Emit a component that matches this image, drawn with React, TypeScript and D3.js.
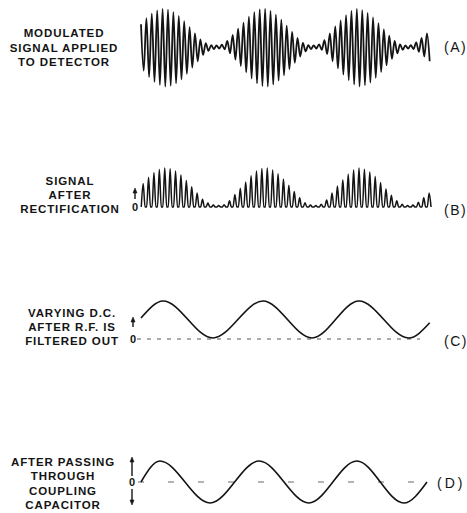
import React from 'react';
import * as d3 from 'd3';

// amplitude of each r.f. cycle (0..1)
const cycleAmps = [
  0.6, 0.76, 0.88, 0.96, 1.0, 0.98, 0.92, 0.82, 0.68, 0.52, 0.36, 0.2, 0.1, 0.05, 0.04, 0.06, 0.16, 0.32,
  0.48, 0.64, 0.8, 0.92, 0.99, 1.0, 0.95, 0.85, 0.72, 0.56, 0.4, 0.24, 0.11, 0.05, 0.04, 0.07, 0.18, 0.36,
  0.54, 0.7, 0.84, 0.95, 1.0, 0.97, 0.9, 0.78, 0.63, 0.46, 0.3, 0.16, 0.07, 0.04, 0.05, 0.12, 0.24, 0.36,
];

// audio wave after filtering: turning points (t in r.f. cycles, v = level)
const filteredT = [0, 4.1, 13.3, 22.6, 31.7, 40.4, 49.6, 53.5];
const filteredV = [0.54, 1, 0, 1, 0, 1, 0, 0.41];

// after the coupling capacitor: same wave centred on zero
const coupledT = [0, 3.5, 12.8, 21.9, 31.1, 40.0, 48.7, 53.0];
const coupledV = [0, 1, -1, 1, -1, 1, -1, 0];

const panelTags = ['(A)', '(B)', '(C)', '(D)'];
const captions = [
  ['MODULATED', 'SIGNAL APPLIED', 'TO DETECTOR'],
  ['SIGNAL', 'AFTER', 'RECTIFICATION'],
  ['VARYING D.C.', 'AFTER R.F. IS', 'FILTERED OUT'],
  ['AFTER PASSING', 'THROUGH', 'COUPLING', 'CAPACITOR'],
];

const W = 467;
const H = 513;
const ink = '#141414';
const font = '"Liberation Sans", Arial, sans-serif';

const Arrow = ({ x, from, to }) => {
  const dir = to < from ? 1 : -1; // 1 = points up
  const head = `M${x - 2},${to + dir * 5} L${x},${to} L${x + 2},${to + dir * 5} Z`;
  return (
    <g>
      <line x1={x} x2={x} y1={from} y2={to + dir * 3} stroke={ink} strokeWidth={1.4} />
      <path d={head} fill={ink} stroke={ink} strokeWidth={0.6} />
    </g>
  );
};

const App = () => {
  const x = d3.scaleLinear().domain([0, 53]).range([141, 427]);

  const yA = d3.scaleLinear().domain([-1, 1]).range([85, 9]);
  const yB = d3.scaleLinear().domain([0, 1]).range([207, 168]);
  const yC = d3.scaleLinear().domain([0, 1]).range([338, 301]);
  const yD = d3.scaleLinear().domain([-1, 1]).range([503, 461]);

  // (A) modulated carrier: one crest and one trough per cycle
  const ptsA: [number, number][] = [];
  cycleAmps.forEach((a, i) => {
    ptsA.push([x(i), yA(a)]);
    ptsA.push([x(i + 0.5), yA(-a * 1.04)]);
  });
  const lineA = d3.line().curve(d3.curveMonotoneX)(ptsA);

  // (B) rectified: one half-wave lobe per cycle
  const ptsB: [number, number][] = [];
  cycleAmps.forEach((a, i) => {
    ptsB.push([x(i + 0.05), yB(0)]);
    ptsB.push([x(i + 0.4), yB(a)]);
    ptsB.push([x(i + 0.75), yB(0)]);
  });
  const lineB = d3.line().curve(d3.curveMonotoneX)(ptsB);

  const lineC = d3.line().curve(d3.curveMonotoneX)(
    filteredT.map((t, i) => [x(t), yC(filteredV[i])] as [number, number])
  );
  const lineD = d3.line().curve(d3.curveMonotoneX)(
    coupledT.map((t, i) => [x(t), yD(coupledV[i])] as [number, number])
  );

  const capX = [64, 70, 72, 63];
  const capY = [37, 185, 317, 466];
  const capStep = [14.5, 14, 14, 14.3];
  const tagX = [444, 444, 444, 437];
  const tagY = [52, 215, 346, 488];

  return (
    <svg
      width={W}
      height={H}
      viewBox={`0 0 ${W} ${H}`}
      style={{ position: 'absolute', left: 0, top: 0, background: '#fff', display: 'block' }}
    >
      <rect width={W} height={H} fill="#fff" />

      {/* captions */}
      {captions.map((lines, p) => (
        <text
          key={p}
          fontFamily={font}
          fontWeight="bold"
          fontSize={11.5}
          letterSpacing={0.9}
          fill={ink}
          textAnchor="middle"
        >
          {lines.map((s, j) => (
            <tspan key={j} x={capX[p]} y={capY[p] + j * capStep[p]}>
              {s}
            </tspan>
          ))}
        </text>
      ))}

      {panelTags.map((s, p) => (
        <text key={s} x={tagX[p]} y={tagY[p]} fontFamily={font} fontSize={14} letterSpacing={p === 3 ? 3 : 1.5} fill={ink}>
          {s}
        </text>
      ))}

      {/* A */}
      <path d={lineA} fill="none" stroke={ink} strokeWidth={1.8} />

      {/* B */}
      <path d={lineB} fill="none" stroke={ink} strokeWidth={1.5} />
      <text x={135} y={211} fontFamily={font} fontWeight="bold" fontSize={11} textAnchor="middle" fill={ink}>0</text>
      <Arrow x={135} from={199} to={188} />

      {/* C */}
      <line x1={137} x2={420} y1={yC(0) + 1} y2={yC(0) + 1} stroke={ink} strokeWidth={0.9} strokeDasharray="4 6" opacity={0.8} />
      <path d={lineC} fill="none" stroke={ink} strokeWidth={1.6} />
      <text x={133} y={343} fontFamily={font} fontWeight="bold" fontSize={11} textAnchor="middle" fill={ink}>0</text>
      <Arrow x={133} from={327} to={317} />

      {/* D */}
      <line x1={138} x2={x(53)} y1={yD(0)} y2={yD(0)} stroke={ink} strokeWidth={0.9} strokeDasharray="6 24" opacity={0.7} />
      <path d={lineD} fill="none" stroke={ink} strokeWidth={1.6} />
      <text x={132} y={486} fontFamily={font} fontWeight="bold" fontSize={11} textAnchor="middle" fill={ink}>0</text>
      <Arrow x={132} from={476} to={457} />
      <Arrow x={132} from={489} to={505} />
    </svg>
  );
};

export default App;
